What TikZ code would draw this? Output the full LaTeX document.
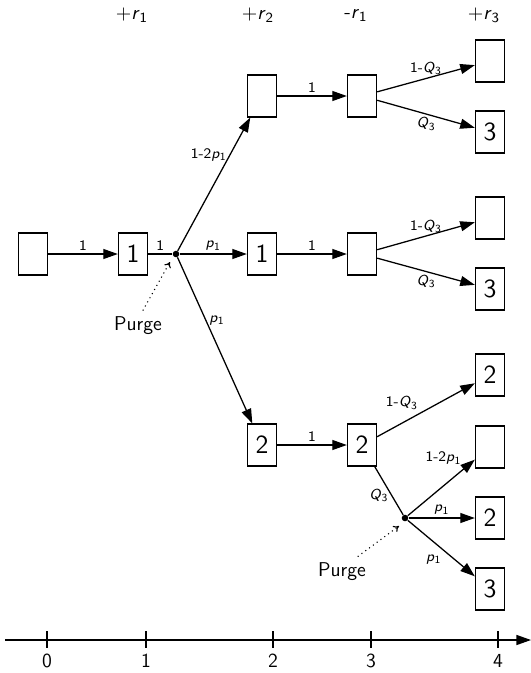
\documentclass[tikz,border=0pt]{standalone}
\usetikzlibrary{arrows.meta}
\renewcommand{\familydefault}{\sfdefault}
\newcommand{\vsub}[2]{\textit{#1}\textsubscript{#2}}
\begin{document}
\begin{tikzpicture}[x=0.55pt,y=-0.55pt,
  stbox/.style={draw,line width=0.7pt,minimum width=16pt,minimum height=23pt,inner sep=0pt,font=\Large},
  dotn/.style={circle,fill,inner sep=0pt,minimum size=3.6pt},
  arr/.style={line width=0.7pt,-{Triangle[length=8pt,width=5.5pt]}},
  plain/.style={line width=0.7pt},
  lab/.style={font=\footnotesize,inner sep=1.5pt},
  big/.style={font=\fontsize{11}{13}\selectfont},
  purgearr/.style={dotted,line width=0.6pt,-{To[length=3pt,width=4pt]}},
  tick/.style={line width=0.7pt}]
\path[use as bounding box] (0,0) rectangle (531,673);
% top labels
\node[big] (t1) at (132,15) {$+$\vsub{r}{1}};
\node[big] (t2) at (258,15) {$+$\vsub{r}{2}};
\node[big] (t3) at (356,15) {-\vsub{r}{1}};
\node[big] (t4) at (484,15) {$+$\vsub{r}{3}};
% boxes
\node[stbox] (A0) at (33,254) {};
\node[stbox] (A1) at (133,254) {1};
\node[dotn] (d1) at (176,254) {};
\node[stbox] (B1) at (262,96) {};
\node[stbox] (B2) at (262,254) {1};
\node[stbox] (B3) at (262,445) {2};
\node[stbox] (C1) at (362,96) {};
\node[stbox] (C2) at (362,254) {};
\node[stbox] (C3) at (362,445) {2};
\node[stbox] (D1) at (490,61) {};
\node[stbox] (D2) at (490,132) {3};
\node[stbox] (D3) at (490,218) {};
\node[stbox] (D4) at (490,289) {3};
\node[stbox] (D5) at (490,375) {2};
\node[stbox] (D6) at (490,447) {};
\node[stbox] (D7) at (490,518) {2};
\node[stbox] (D8) at (490,589) {3};
\node[dotn] (d2) at (405,518) {};
% edges
\draw[arr] (A0) -- node[lab,above] {1} (A1);
\draw[plain] (A1) -- node[lab,above] {1} (d1);
\draw[arr] (d1) -- node[lab,left,pos=0.72] {1-2\vsub{p}{1}} (B1);
\draw[arr] (d1) -- node[lab,above] {\vsub{p}{1}} (B2);
\draw[arr] (d1) -- node[lab,right,pos=0.38] {\vsub{p}{1}} (B3);
\draw[arr] (B1) -- node[lab,above] {1} (C1);
\draw[arr] (B2) -- node[lab,above] {1} (C2);
\draw[arr] (B3) -- node[lab,above] {1} (C3);
\draw[arr] (C1) -- node[lab,above] {1-\vsub{Q}{3}} (D1);
\draw[arr] (C1) -- node[lab,below] {\vsub{Q}{3}} (D2);
\draw[arr] (C2) -- node[lab,above] {1-\vsub{Q}{3}} (D3);
\draw[arr] (C2) -- node[lab,below] {\vsub{Q}{3}} (D4);
\draw[arr] (C3) -- node[lab,above left,pos=0.45] {1-\vsub{Q}{3}} (D5);
\draw[plain] (C3) -- node[lab,left,pos=0.6] {\vsub{Q}{3}} (d2);
\draw[arr] (d2) -- node[lab,above left,pos=0.85] {1-2\vsub{p}{1}} (D6);
\draw[arr] (d2) -- node[lab,above] {\vsub{p}{1}} (D7);
\draw[arr] (d2) -- node[lab,below left,pos=0.55] {\vsub{p}{1}} (D8);
% purge
\node[big] (pg1) at (138,326) {Purge};
\coordinate (pe1) at (170,262);
\draw[purgearr] (pg1.north east) ++(-14pt,0) -- (pe1);
\node[big] (pg2) at (342,572) {Purge};
\coordinate (pe2) at (399,526);
\draw[purgearr] (pg2.north east) ++(-8pt,0) -- (pe2);
% axis
\coordinate (ax0) at (5,640);
\coordinate (ax1) at (531,640);
\draw[line width=0.7pt,-{Triangle[length=8pt,width=5.5pt]}] (ax0) -- (ax1);
\foreach \xx/\lb in {47/0,146/1,273/2,371/3,498/4}{
  \coordinate (tk\lb a) at (\xx,631);
  \coordinate (tk\lb b) at (\xx,648);
  \draw[tick] (tk\lb a) -- (tk\lb b);
  \node[big] (tl\lb) at (\xx,661) {\lb};
}
\end{tikzpicture}
\end{document}
